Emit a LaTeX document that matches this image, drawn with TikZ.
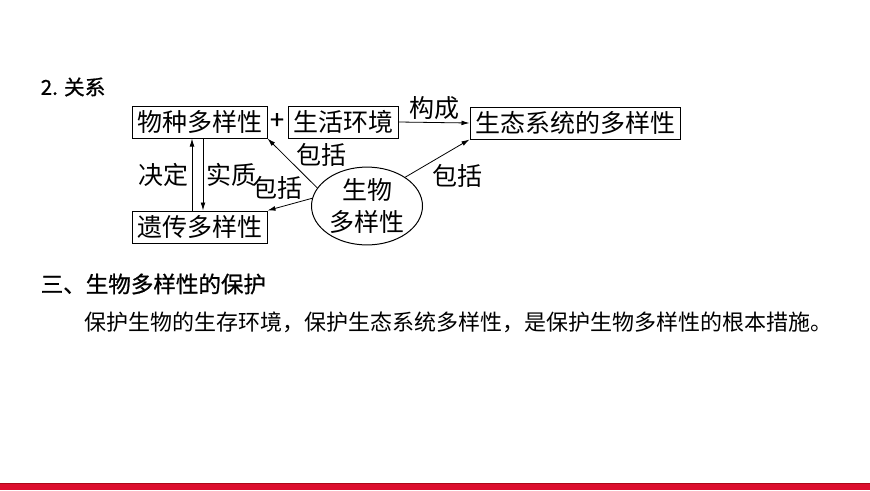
\documentclass[tikz,border=0pt]{standalone}
\usepackage{fontspec}
\setmainfont{Noto Sans CJK SC}
\newfontfamily\headfont{Noto Sans CJK SC}[FakeBold=0.8]
\usetikzlibrary{shapes.geometric,arrows.meta}
\definecolor{barred}{RGB}{220,14,45}
\definecolor{bardark}{RGB}{170,10,25}
\begin{document}
\begin{tikzpicture}[x=0.75pt,y=-0.75pt,
    >={Latex[length=6pt,width=3.6pt]},
    every node/.style={font=\fontsize{18.75}{24}\selectfont},
    kind/.style={draw,line width=0.75pt,inner xsep=3.75pt,inner ysep=0pt,minimum height=24pt},
    lbl/.style={inner sep=2pt},
    arr/.style={->,line width=0.6pt}]
    \useasboundingbox (0,0) rectangle (870,490);
    \fill[barred] (0,483) rectangle (870,490);
    \draw[bardark,line width=0.75pt] (0,483) -- (870,483);
    \node[anchor=west,font=\headfont\fontsize{15.5}{18}\selectfont] (title) at (36,87) {2. 关系};
    \node[kind] (species) at (199.5,122) {物种多样性};
    \node[font=\headfont\fontsize{19}{20}\selectfont,inner sep=0pt] (plus) at (277,121) {+};
    \node[kind] (habitat) at (343.5,122) {生活环境};
    \node[kind] (eco) at (575,123) {生态系统的多样性};
    \node[kind] (gene) at (199.5,227) {遗传多样性};
    \node[draw,ellipse,line width=0.75pt,minimum width=83.25pt,minimum height=55.5pt,inner sep=0pt,align=center] (bio) at (367,206) {生物\\多样性};
    \draw[arr] (habitat.east) -- (eco.west) node[midway,above,lbl] {构成};
    \draw[arr] (gene.north -| 192,0) -- (species.south -| 192,0) node[midway,left,lbl] {决定};
    \draw[arr] (species.south -| 203,0) -- (gene.north -| 203,0) node[midway,right,lbl] {实质};
    \draw[arr] (bio.160) -- (species.south east);
    \draw[arr] (bio.172) -- (gene.north east);
    \draw[arr] (bio.37) -- (eco.south west);
    \node (incl1) at (321,155) {包括};
    \node (incl2) at (277,188) {包括};
    \node (incl3) at (457,176) {包括};
    \node[anchor=west,font=\headfont\fontsize{16.9}{20}\selectfont] (sec) at (36,284) {三、生物多样性的保护};
    \node[anchor=west,font=\fontsize{16.5}{20}\selectfont] (body) at (80,322) {保护生物的生存环境，保护生态系统多样性，是保护生物多样性的根本措施。};
\end{tikzpicture}
\end{document}
